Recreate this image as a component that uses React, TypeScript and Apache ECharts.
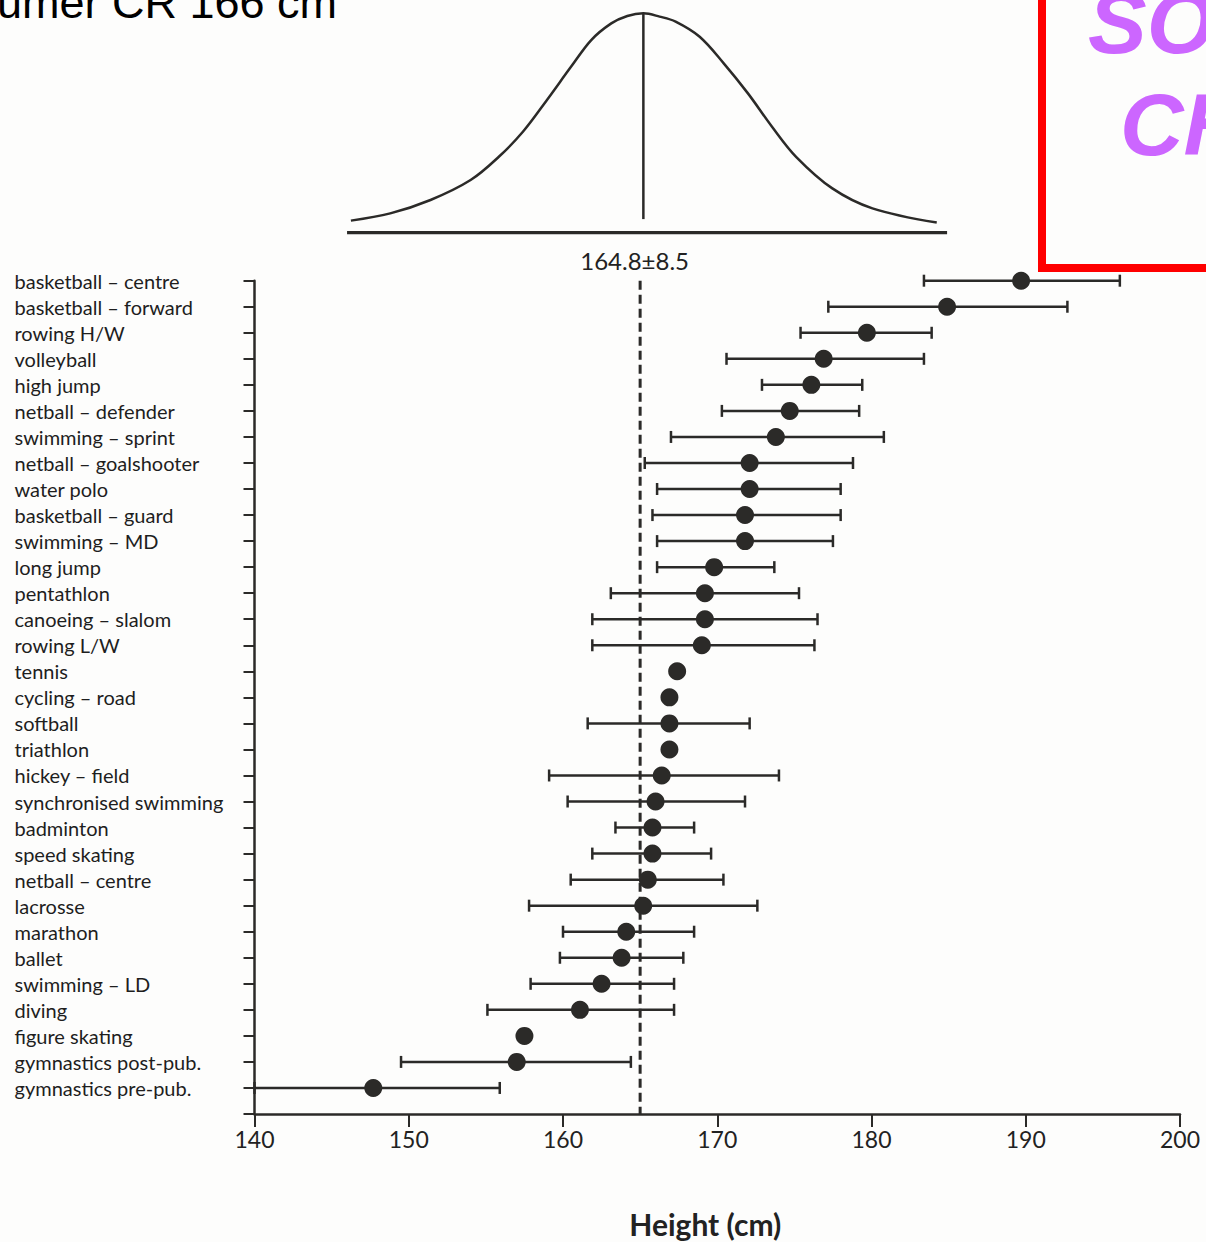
import React, { useEffect, useRef } from 'react';
import * as echarts from 'echarts';

// ---- data ----
const categories = [
  'basketball – centre',
  'basketball – forward',
  'rowing H/W',
  'volleyball',
  'high jump',
  'netball – defender',
  'swimming – sprint',
  'netball – goalshooter',
  'water polo',
  'basketball – guard',
  'swimming – MD',
  'long jump',
  'pentathlon',
  'canoeing – slalom',
  'rowing L/W',
  'tennis',
  'cycling – road',
  'softball',
  'triathlon',
  'hickey – field',
  'synchronised swimming',
  'badminton',
  'speed skating',
  'netball – centre',
  'lacrosse',
  'marathon',
  'ballet',
  'swimming – LD',
  'diving',
  'figure skating',
  'gymnastics post-pub.',
  'gymnastics pre-pub.',
];

const meanHeights = [
  189.7, 184.9, 179.7, 176.9, 176.1, 174.7, 173.8, 172.1, 172.1, 171.8, 171.8, 169.8,
  169.2, 169.2, 169.0, 167.4, 166.9, 166.9, 166.9, 166.4, 166.0, 165.8, 165.8, 165.5,
  165.2, 164.1, 163.8, 162.5, 161.1, 157.5, 157.0, 147.7,
];

const lowerBounds: (number | null)[] = [
  183.4, 177.2, 175.4, 170.6, 172.9, 170.3, 167.0, 165.3, 166.1, 165.8, 166.1, 166.1,
  163.1, 161.9, 161.9, null, null, 161.6, null, 159.1, 160.3, 163.4, 161.9, 160.5,
  157.8, 160.0, 159.8, 157.9, 155.1, null, 149.5, 140.0,
];

const upperBounds: (number | null)[] = [
  196.1, 192.7, 183.9, 183.4, 179.4, 179.2, 180.8, 178.8, 178.0, 178.0, 177.5, 173.7,
  175.3, 176.5, 176.3, null, null, 172.1, null, 174.0, 171.8, 168.5, 169.6, 170.4,
  172.6, 168.5, 167.8, 167.2, 167.2, null, 164.4, 155.9,
];

const xTicks = [140, 150, 160, 170, 180, 190, 200];
const referenceLine = 165.0;
const referenceLabel = '164.8±8.5';

// bell curve outline (height in % of peak)
const bellX = [146.25, 148.8, 151.41, 154.01, 155.84, 157.4, 158.96, 160.53, 161.83, 163.13,
  164.17, 165.21, 166.26, 167.3, 168.86, 170.42, 171.99, 173.55, 175.11, 177.46, 180.06, 184.23];
const bellY = [5.5, 8.8, 14.9, 24.0, 34.6, 46.0, 60.5, 75.7, 87.8, 95.4,
  98.8, 100, 98.5, 96.2, 89.3, 77.2, 63.5, 48.3, 34.6, 20.2, 11.1, 4.6];
const bellCentre = [165.21, 6.2, 100];
const bellBase = [146.0, 184.9];

const INK = '#2b2a28';
const FONT = 'Lato, "Open Sans", sans-serif';

export default function App() {
  const ref = useRef<HTMLDivElement>(null);

  useEffect(() => {
    document.body.style.margin = '0';
    document.body.style.overflow = 'hidden';
    const chart = echarts.init(ref.current!, null, { renderer: 'svg' });

    const errData = categories
      .map((_, i) => [lowerBounds[i], upperBounds[i], i])
      .filter((d) => d[0] !== null && d[1] !== null);

    const option: any = {
      animation: false,
      backgroundColor: '#fdfdfc',
      grid: [
        { left: 254.5, right: 26, top: 280.7, bottom: 128, outerBoundsMode: 'none' },
        { left: 254.5, right: 26, top: 13.3, bottom: 1242 - 232.7, outerBoundsMode: 'none' },
      ],
      xAxis: [
        {
          type: 'value',
          gridIndex: 0,
          position: 'bottom',
          min: xTicks[0],
          max: xTicks[xTicks.length - 1],
          interval: 10,
          axisLine: { show: true, onZero: false, lineStyle: { color: INK, width: 2.5 } },
          axisTick: { show: true, inside: false, length: 13, lineStyle: { color: INK, width: 2 } },
          axisLabel: { color: '#222', fontSize: 23, fontFamily: FONT, margin: 13 },
          splitLine: { show: false },
          name: 'Height (cm)',
          nameLocation: 'middle',
          nameGap: 95,
          nameTextStyle: {
            color: '#222', fontSize: 30, fontWeight: 'bold', fontFamily: FONT,
            padding: [0, 24, 0, 0],
          },
        },
        {
          type: 'value', gridIndex: 1, min: 140, max: 200, show: false,
        },
      ],
      yAxis: [
        {
          type: 'value',
          gridIndex: 0,
          inverse: true,
          min: 0,
          max: 32,
          interval: 1,
          axisLine: { show: true, onZero: false, lineStyle: { color: INK, width: 2.5 } },
          axisTick: { show: true, inside: false, length: 11, lineStyle: { color: INK, width: 2 } },
          axisLabel: {
            color: '#1e1e1e',
            fontSize: 20,
            fontFamily: FONT,
            align: 'left',
            margin: 240,
            formatter: (v: number) => categories[v] ?? '',
          },
          splitLine: { show: false },
        },
        { type: 'value', gridIndex: 1, min: 0, max: 100, show: false },
      ],
      series: [
        {
          type: 'line',
          xAxisIndex: 0,
          yAxisIndex: 0,
          data: [[referenceLine, 0], [referenceLine, 32]],
          symbol: 'none',
          lineStyle: { color: INK, width: 3, type: [9, 5] },
          silent: true,
          z: 1,
        },
        {
          type: 'custom',
          xAxisIndex: 0,
          yAxisIndex: 0,
          data: errData,
          encode: { x: [0, 1], y: 2 },
          z: 2,
          renderItem: (params: any, api: any) => {
            const lo = api.coord([api.value(0), api.value(2)]);
            const hi = api.coord([api.value(1), api.value(2)]);
            const h = 6;
            const st = { stroke: INK, lineWidth: 2.5 };
            return {
              type: 'group',
              children: [
                { type: 'line', shape: { x1: lo[0], y1: lo[1], x2: hi[0], y2: hi[1] }, style: st },
                { type: 'line', shape: { x1: lo[0], y1: lo[1] - h, x2: lo[0], y2: lo[1] + h }, style: st },
                { type: 'line', shape: { x1: hi[0], y1: hi[1] - h, x2: hi[0], y2: hi[1] + h }, style: st },
              ],
            };
          },
        },
        {
          type: 'scatter',
          xAxisIndex: 0,
          yAxisIndex: 0,
          data: meanHeights.map((m, i) => [m, i]),
          symbol: 'circle',
          symbolSize: 18,
          itemStyle: { color: INK, opacity: 1 },
          z: 3,
        },
        {
          type: 'line',
          xAxisIndex: 1,
          yAxisIndex: 1,
          data: bellX.map((x, i) => [x, bellY[i]]),
          smooth: 0.35,
          symbol: 'none',
          lineStyle: { color: INK, width: 2.5 },
          silent: true,
        },
        {
          type: 'line',
          xAxisIndex: 1,
          yAxisIndex: 1,
          data: [[bellCentre[0], bellCentre[1]], [bellCentre[0], bellCentre[2]]],
          symbol: 'none',
          lineStyle: { color: INK, width: 2.5 },
          silent: true,
        },
        {
          type: 'line',
          xAxisIndex: 1,
          yAxisIndex: 1,
          data: [[bellBase[0], 0], [bellBase[1], 0]],
          symbol: 'none',
          lineStyle: { color: INK, width: 3.5 },
          silent: true,
        },
      ],
      graphic: [
        {
          type: 'text',
          x: 634.6,
          y: 260,
          style: {
            text: referenceLabel,
            fill: '#222',
            font: `24px ${FONT}`,
            align: 'center',
            verticalAlign: 'middle',
          },
        },
        {
          type: 'text',
          x: -3,
          y: 2,
          style: {
            text: 'umer CR 166 cm',
            fill: '#000',
            font: '45px "Liberation Sans", Arial, sans-serif',
            align: 'left',
            verticalAlign: 'middle',
          },
        },
        {
          type: 'rect',
          shape: { x: 1042, y: -20, width: 300, height: 288 },
          style: { fill: 'none', stroke: '#ff0000', lineWidth: 8 },
        },
        {
          type: 'text',
          x: 1088,
          y: 22.5,
          style: {
            text: 'SO',
            fill: '#cc66ff',
            font: 'italic bold 88px "Liberation Sans", Arial, sans-serif',
            align: 'left',
            verticalAlign: 'middle',
          },
        },
        {
          type: 'text',
          x: 1120,
          y: 124.5,
          style: {
            text: 'CH',
            fill: '#cc66ff',
            font: 'italic bold 88px "Liberation Sans", Arial, sans-serif',
            align: 'left',
            verticalAlign: 'middle',
          },
        },
      ],
    };

    chart.setOption(option);
    return () => chart.dispose();
  }, []);

  return <div ref={ref} style={{ width: 1206, height: 1242 }} />;
}
